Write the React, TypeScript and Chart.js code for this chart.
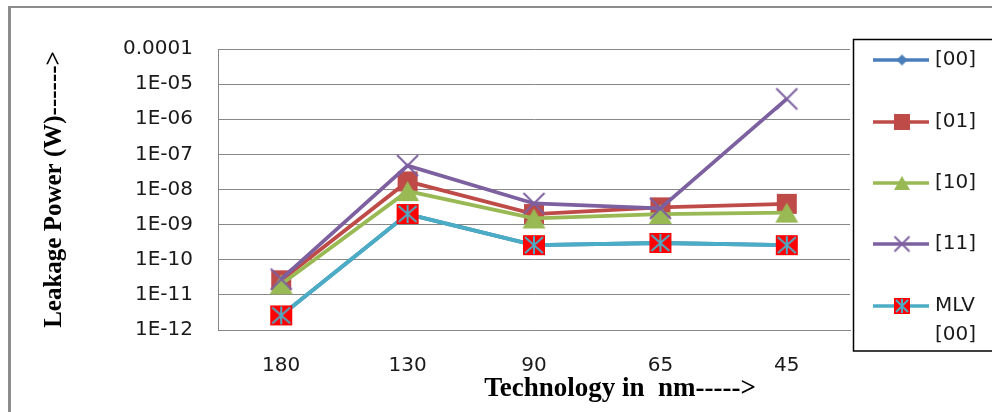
import React, { useEffect, useRef } from "react";
import { Chart, registerables } from "chart.js";

Chart.register(...registerables);

// ---- data ----
const categories = ["180", "130", "90", "65", "45"];
const seriesNames = ["[00]", "[01]", "[10]", "[11]", "MLV [00]"];
const s00 = [2.6e-12, 2.0e-9, 2.6e-10, 3.0e-10, 2.6e-10];
const s01 = [2.6e-11, 1.7e-8, 2.0e-9, 3.1e-9, 3.9e-9];
const s10 = [2.0e-11, 9.0e-9, 1.5e-9, 2.0e-9, 2.2e-9];
const s11 = [2.8e-11, 4.8e-8, 4.0e-9, 2.9e-9, 3.8e-6];
const sMLV = [2.6e-12, 2.0e-9, 2.6e-10, 3.0e-10, 2.6e-10];
const yTickValues = [1e-12, 1e-11, 1e-10, 1e-9, 1e-8, 1e-7, 1e-6, 1e-5, 1e-4];
const yTickLabels = ["1E-12", "1E-11", "1E-10", "1E-09", "1E-08", "1E-07", "1E-06", "1E-05", "0.0001"];
const yTitle = "Leakage Power (W)------>";
const xTitle = "Technology in  nm----->";

const colors = ["#4a7ebb", "#be4b48", "#98b954", "#7d60a0", "#4bacc6"];
const TICK_FONT = '"DejaVu Sans", sans-serif';

function marker(kind: string, w: number, h: number): HTMLCanvasElement {
  const pad = 2;
  const c = document.createElement("canvas");
  c.width = w + pad * 2;
  c.height = h + pad * 2;
  const ctx = c.getContext("2d")!;
  ctx.translate(pad, pad);
  if (kind === "diamond") {
    ctx.fillStyle = colors[0];
    ctx.beginPath();
    ctx.moveTo(w / 2, 0);
    ctx.lineTo(w, h / 2);
    ctx.lineTo(w / 2, h);
    ctx.lineTo(0, h / 2);
    ctx.closePath();
    ctx.fill();
  } else if (kind === "square") {
    ctx.fillStyle = colors[1];
    ctx.fillRect(0, 0, w, h);
  } else if (kind === "triangle") {
    ctx.fillStyle = colors[2];
    ctx.beginPath();
    ctx.moveTo(w / 2, 0);
    ctx.lineTo(w, h);
    ctx.lineTo(0, h);
    ctx.closePath();
    ctx.fill();
  } else if (kind === "x") {
    ctx.strokeStyle = colors[3];
    ctx.lineWidth = 2;
    ctx.beginPath();
    ctx.moveTo(0, 0);
    ctx.lineTo(w, h);
    ctx.moveTo(w, 0);
    ctx.lineTo(0, h);
    ctx.stroke();
  } else if (kind === "mlv") {
    ctx.fillStyle = "#ff0000";
    ctx.fillRect(0, 0, w, h);
    ctx.strokeStyle = colors[4];
    ctx.lineWidth = 2;
    ctx.beginPath();
    ctx.moveTo(w / 2, 1);
    ctx.lineTo(w / 2, h - 1);
    ctx.moveTo(2, 2);
    ctx.lineTo(w - 2, h - 2);
    ctx.moveTo(w - 2, 2);
    ctx.lineTo(2, h - 2);
    ctx.stroke();
  }
  return c;
}

export default function App() {
  const ref = useRef<HTMLCanvasElement>(null);

  useEffect(() => {
    const canvas = ref.current;
    if (!canvas) return;

    const dataMarkers = [
      marker("diamond", 12, 12),
      marker("square", 20, 20),
      marker("triangle", 23, 20),
      marker("x", 21, 21),
      marker("mlv", 22, 20),
    ];
    const legendMarkers = [
      marker("diamond", 11, 11),
      marker("square", 16, 16),
      marker("triangle", 16, 14),
      marker("x", 15, 15),
      marker("mlv", 16, 16),
    ];
    const allData = [s00, s01, s10, s11, sMLV];

    const decor = {
      id: "decor",
      beforeDraw(chart: any) {
        const ctx = chart.ctx;
        ctx.save();
        ctx.fillStyle = "#ffffff";
        ctx.fillRect(0, 0, chart.width, chart.height);
        ctx.fillStyle = "#8c8c8c";
        ctx.fillRect(8, 6, 3, chart.height - 6);
        ctx.fillRect(8, 6, chart.width - 8, 2);
        ctx.restore();
      },
      afterDraw(chart: any) {
        const ctx = chart.ctx;
        ctx.save();
        // x axis title
        ctx.fillStyle = "#000000";
        ctx.font = 'bold 27px "Liberation Serif", serif';
        ctx.textAlign = "center";
        ctx.textBaseline = "middle";
        ctx.fillText(xTitle, 620, 389);
        // legend
        ctx.fillStyle = "#ffffff";
        ctx.fillRect(853, 39, 145, 312);
        ctx.strokeStyle = "#000000";
        ctx.lineWidth = 1.5;
        ctx.strokeRect(853.5, 39.5, 160, 311.5);
        const rows = [60, 122, 183, 244, 306];
        ctx.font = "20px " + TICK_FONT;
        ctx.textAlign = "left";
        ctx.textBaseline = "middle";
        for (let i = 0; i < seriesNames.length; i++) {
          const y = rows[i];
          ctx.strokeStyle = colors[i];
          ctx.lineWidth = 3.5;
          ctx.beginPath();
          ctx.moveTo(873, y);
          ctx.lineTo(929, y);
          ctx.stroke();
          const m = legendMarkers[i];
          ctx.drawImage(m, 902 - m.width / 2, y - m.height / 2);
          ctx.fillStyle = "#1a1a1a";
          const parts = seriesNames[i].split(" ");
          parts.forEach((p, k) => ctx.fillText(p, 935, y + k * 29));
        }
        ctx.restore();
      },
    };

    const chart = new Chart(canvas, {
      type: "line",
      data: {
        labels: categories,
        datasets: allData.map((d, i) => ({
          label: seriesNames[i],
          data: d,
          borderColor: colors[i],
          backgroundColor: colors[i],
          borderWidth: 3.8,
          tension: 0,
          pointStyle: dataMarkers[i] as any,
          pointRadius: 10,
          pointHoverRadius: 10,
          order: allData.length - i,
          fill: false,
        })),
      },
      options: {
        animation: false,
        responsive: true,
        maintainAspectRatio: false,
        devicePixelRatio: 1,
        layout: { padding: { left: 10, right: 142, top: 49, bottom: 0 } },
        plugins: {
          legend: { display: false },
          tooltip: { enabled: false },
          title: { display: false },
        },
        scales: {
          x: {
            type: "category",
            offset: true,
            grid: { display: false },
            border: { display: true, color: "#878787", width: 1 },
            ticks: {
              color: "#1a1a1a",
              font: { family: TICK_FONT, size: 20 },
              padding: 16,
              maxRotation: 0,
              autoSkip: false,
            },
            afterFit: (s: any) => {
              s.height = 82;
            },
          },
          y: {
            type: "logarithmic",
            min: 1e-12,
            max: 1e-4,
            grid: { color: "#878787", lineWidth: 1, drawTicks: false },
            border: { display: true, color: "#878787", width: 1 },
            afterBuildTicks: (s: any) => {
              s.ticks = yTickValues.map((v) => ({ value: v }));
            },
            ticks: {
              color: "#1a1a1a",
              font: { family: TICK_FONT, size: 20 },
              padding: 25,
              autoSkip: false,
              callback: (_v: any, idx: number) => yTickLabels[idx],
            },
            title: {
              display: true,
              text: yTitle,
              color: "#000000",
              font: { family: '"Liberation Serif", serif', size: 25, weight: "bold" },
              padding: { top: 30, bottom: 0 },
            },
            afterFit: (s: any) => {
              s.width = 208;
            },
          },
        },
      },
      plugins: [decor],
    });
    return () => chart.destroy();
  }, []);

  return (
    <div style={{ position: "fixed", left: 0, top: 0, width: 992, height: 412, background: "#fff" }}>
      <canvas ref={ref} />
    </div>
  );
}
